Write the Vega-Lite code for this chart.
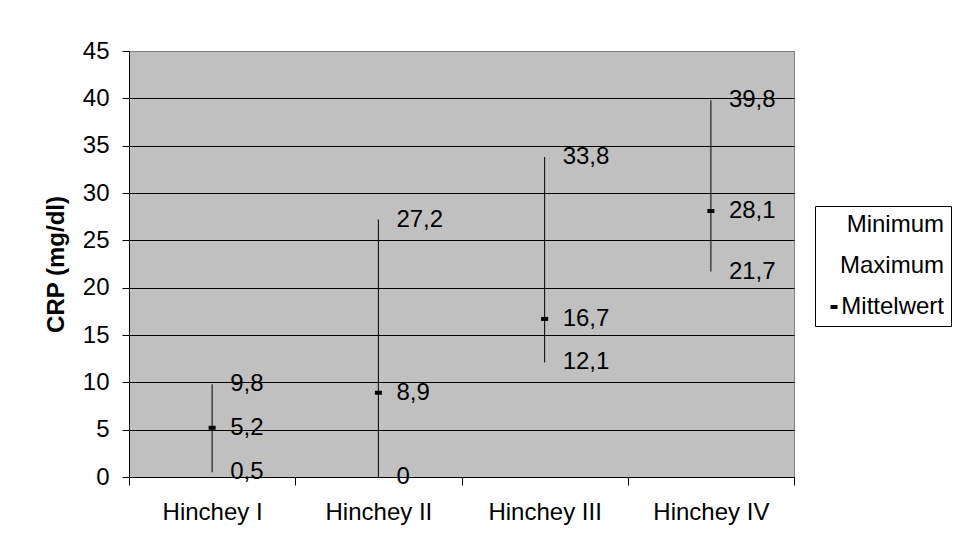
{
  "$schema": "https://vega.github.io/schema/vega-lite/v6.json",
  "width": 665,
  "height": 426,
  "autosize": {"type": "none"},
  "padding": {"left": 129, "top": 51, "right": 174, "bottom": 76},
  "background": "white",
  "config": {
    "font": "Liberation Sans",
    "locale": {"number": {"decimal": ",", "thousands": ".", "grouping": [3], "currency": ["", " €"]}},
    "view": {"fill": "#C0C0C0", "stroke": "#808080", "strokeWidth": 1}
  },
  "data": {
    "values": [
      {"Stadium": "Hinchey I", "Minimum": 0.5, "Maximum": 9.8, "Mittelwert": 5.2},
      {"Stadium": "Hinchey II", "Minimum": 0, "Maximum": 27.2, "Mittelwert": 8.9},
      {"Stadium": "Hinchey III", "Minimum": 12.1, "Maximum": 33.8, "Mittelwert": 16.7},
      {"Stadium": "Hinchey IV", "Minimum": 21.7, "Maximum": 39.8, "Mittelwert": 28.1}
    ]
  },
  "encoding": {
    "x": {
      "field": "Stadium",
      "type": "nominal",
      "sort": null,
      "title": null,
      "scale": {"paddingInner": 0, "paddingOuter": 0},
      "axis": {
        "labelAngle": 0,
        "labelFontSize": 24,
        "labelColor": "black",
        "labelPadding": 15,
        "tickBand": "extent",
        "tickSize": 8,
        "tickColor": "black",
        "domainColor": "black",
        "grid": false
      }
    }
  },
  "layer": [
    {
      "mark": {"type": "rule", "color": "black", "strokeWidth": 1},
      "encoding": {
        "y": {
          "field": "Minimum",
          "type": "quantitative",
          "title": "CRP (mg/dl)",
          "scale": {"domain": [0, 45], "nice": false},
          "axis": {
            "values": [0, 5, 10, 15, 20, 25, 30, 35, 40, 45],
            "labelFontSize": 24,
            "labelColor": "black",
            "labelPadding": 13,
            "tickSize": 7,
            "tickColor": "black",
            "domainColor": "black",
            "grid": true,
            "gridColor": {"condition": {"test": "datum.value === 45", "value": "#808080"}, "value": "black"},
            "gridOpacity": 1,
            "titleFontSize": 24,
            "titleFontWeight": "bold",
            "titleColor": "black",
            "titlePadding": 14
          }
        },
        "y2": {"field": "Maximum"}
      }
    },
    {
      "transform": [{"fold": ["Minimum", "Maximum", "Mittelwert"], "as": ["Reihe", "Wert"]}],
      "layer": [
        {
          "mark": {"type": "point", "filled": true, "size": 49, "color": "black", "opacity": 1},
          "encoding": {
            "y": {"field": "Wert", "type": "quantitative"},
            "shape": {
              "field": "Reihe",
              "type": "nominal",
              "scale": {
                "domain": ["Minimum", "Maximum", "Mittelwert"],
                "range": ["M0,0Z", "M0,0Z", "M-1,-0.57H1V0.57H-1Z"]
              },
              "legend": {
                "title": null,
                "orient": "none",
                "legendX": 686,
                "legendY": 155,
                "direction": "vertical",
                "fillColor": "white",
                "strokeColor": "black",
                "padding": 7,
                "labelFont": "Liberation Sans",
                "labelFontSize": 24,
                "labelColor": "black",
                "labelAlign": "right",
                "labelOffset": 98,
                "rowPadding": 17,
                "symbolSize": 49,
                "symbolFillColor": "black",
                "symbolStrokeWidth": 0
              }
            }
          }
        },
        {
          "mark": {"type": "text", "align": "left", "baseline": "middle", "dx": 18, "fontSize": 24, "color": "black"},
          "encoding": {
            "y": {"field": "Wert", "type": "quantitative"},
            "text": {"field": "Wert", "type": "quantitative", "format": ".1~f"}
          }
        }
      ]
    }
  ]
}
